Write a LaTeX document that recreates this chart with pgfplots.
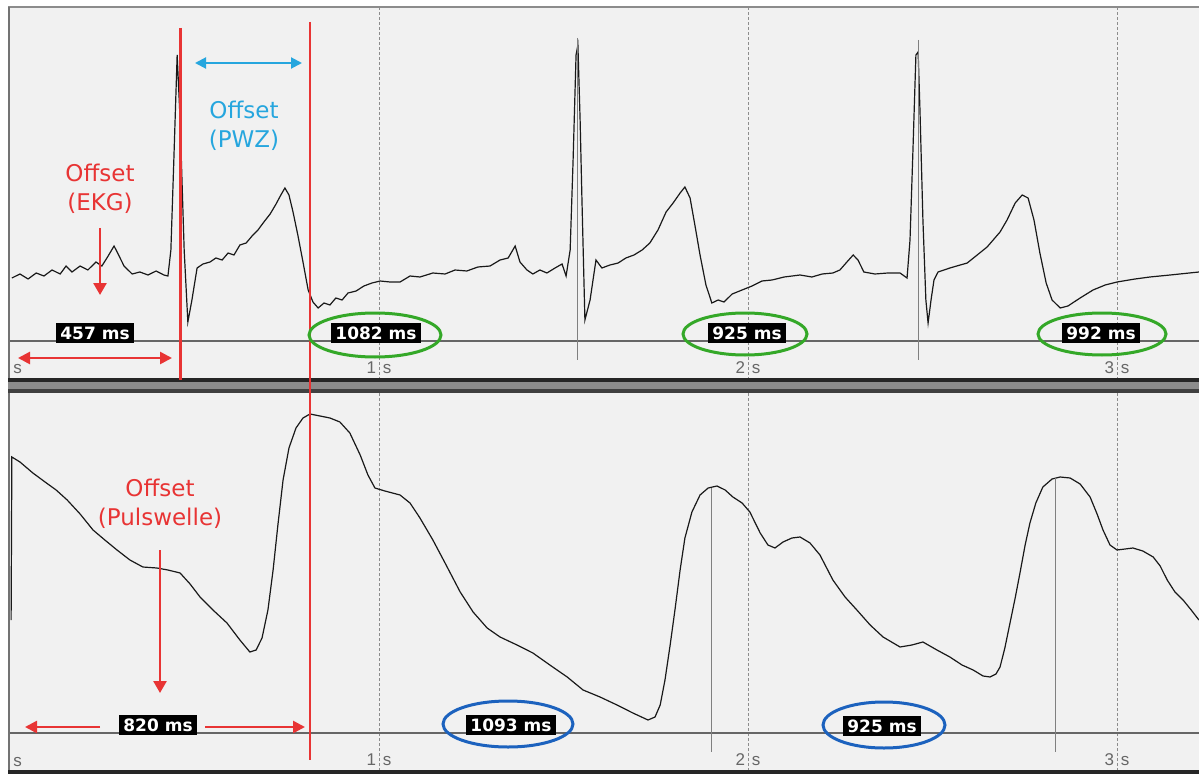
\documentclass[border=0pt]{standalone}
\usepackage{pgfplots}
\pgfplotsset{compat=1.18}
\usepackage{fontspec}
\setmainfont{DejaVu Sans}
\newfontfamily\tickfont{Liberation Sans}
\usetikzlibrary{arrows.meta}
\definecolor{panelbg}{RGB}{241,241,241}
\definecolor{myred}{RGB}{232,52,52}
\definecolor{mycyan}{RGB}{38,166,222}
\definecolor{mygreen}{RGB}{52,168,40}
\definecolor{myblue}{RGB}{28,98,190}
\pgfplotsset{
  panel/.style={
    anchor=south west, scale only axis, width=594.5pt,
    xmin=0, xmax=3.2222,
    axis line style={draw=none}, ytick=\empty,
    xtick={1,2,3},
    xticklabels={1\hspace{3.5pt}s,2\hspace{3.5pt}s,3\hspace{3.5pt}s},
    major tick length=0pt,
    xmajorgrids,
    grid style={dash pattern=on 1.5pt off 1pt, black!45, line width=0.5pt},
    xticklabel style={anchor=base, yshift=3pt, font=\tickfont\fontsize{8.5}{9}\selectfont, text=black!60},
    axis background/.style={fill=panelbg},
    clip=true,
  },
  sig/.style={black!90, line width=0.6pt, mark=none},
}
\begin{document}
\begin{tikzpicture}
% ---------- top panel: EKG ----------
\begin{axis}[panel, at={(5pt,199pt)}, height=186.5pt, ymin=-0.39, ymax=3.34]
\addplot[sig] coordinates {
(0.005,0.63) (0.027,0.67) (0.049,0.62) (0.071,0.68) (0.092,0.65) (0.114,0.71) (0.136,0.67) (0.152,0.75) (0.168,0.69) (0.190,0.75) (0.211,0.71) (0.233,0.79) (0.249,0.75) (0.266,0.85) (0.282,0.95) (0.293,0.87) (0.309,0.75) (0.331,0.67) (0.352,0.69) (0.374,0.66) (0.396,0.70) (0.417,0.66) (0.428,0.65) (0.436,0.91) (0.444,1.81) (0.453,2.86) (0.461,2.21) (0.472,0.91) (0.482,0.19) (0.493,0.41) (0.507,0.73) (0.523,0.77) (0.542,0.79) (0.558,0.83) (0.575,0.81) (0.591,0.88) (0.607,0.86) (0.623,0.96) (0.640,0.98) (0.656,1.05) (0.672,1.11) (0.688,1.19) (0.705,1.27) (0.721,1.37) (0.734,1.46) (0.745,1.53) (0.756,1.46) (0.767,1.29) (0.780,1.06) (0.794,0.79) (0.808,0.51) (0.821,0.39) (0.835,0.33) (0.851,0.38) (0.867,0.36) (0.883,0.43) (0.900,0.41) (0.916,0.48) (0.938,0.50) (0.959,0.55) (0.981,0.58) (1.003,0.60) (1.030,0.59) (1.057,0.59) (1.084,0.65) (1.111,0.64) (1.146,0.68) (1.179,0.67) (1.206,0.71) (1.238,0.70) (1.268,0.74) (1.301,0.75) (1.328,0.81) (1.350,0.83) (1.369,0.95) (1.382,0.79) (1.401,0.71) (1.417,0.67) (1.436,0.71) (1.455,0.68) (1.477,0.73) (1.496,0.77) (1.507,0.65) (1.518,0.91) (1.526,1.81) (1.534,2.86) (1.539,2.96) (1.545,2.21) (1.550,1.41) (1.558,0.21) (1.572,0.41) (1.588,0.81) (1.604,0.73) (1.626,0.76) (1.648,0.78) (1.669,0.83) (1.691,0.86) (1.713,0.91) (1.734,0.98) (1.756,1.11) (1.778,1.29) (1.797,1.38) (1.816,1.48) (1.829,1.54) (1.843,1.43) (1.856,1.16) (1.870,0.86) (1.886,0.56) (1.902,0.38) (1.919,0.41) (1.935,0.39) (1.957,0.47) (1.984,0.51) (2.011,0.55) (2.038,0.60) (2.065,0.61) (2.098,0.64) (2.141,0.66) (2.173,0.64) (2.201,0.67) (2.230,0.68) (2.249,0.71) (2.268,0.79) (2.285,0.86) (2.298,0.81) (2.314,0.69) (2.344,0.67) (2.379,0.68) (2.412,0.68) (2.431,0.63) (2.439,1.01) (2.447,1.91) (2.455,2.86) (2.461,2.89) (2.466,2.31) (2.474,1.21) (2.482,0.41) (2.488,0.18) (2.496,0.41) (2.504,0.61) (2.515,0.69) (2.547,0.73) (2.594,0.78) (2.648,0.94) (2.683,1.09) (2.702,1.21) (2.724,1.38) (2.743,1.46) (2.759,1.43) (2.775,1.21) (2.791,0.88) (2.808,0.58) (2.824,0.41) (2.846,0.33) (2.867,0.35) (2.900,0.43) (2.935,0.51) (2.968,0.56) (3.000,0.59) (3.049,0.62) (3.089,0.64) (3.144,0.66) (3.222,0.69)
};
% baseline and R-peak cursors
\draw[black!60, line width=0.6pt] (axis cs:0,0) -- (axis cs:3.2222,0);
\draw[black!50, line width=0.5pt] (axis cs:1.539,3.03) -- (axis cs:1.539,-0.19);
\draw[black!50, line width=0.5pt] (axis cs:2.461,3.01) -- (axis cs:2.461,-0.19);
\end{axis}
% ---------- bottom panel: Pulswelle ----------
\begin{axis}[panel, at={(5pt,3.5pt)}, height=189pt, ymin=-0.38, ymax=3.40]
\addplot[sig] coordinates {
(0.003,1.13) (0.005,2.76) (0.027,2.71) (0.062,2.60) (0.095,2.51) (0.125,2.43) (0.155,2.33) (0.190,2.19) (0.225,2.03) (0.257,1.93) (0.290,1.83) (0.325,1.73) (0.360,1.66) (0.398,1.65) (0.428,1.63) (0.461,1.60) (0.488,1.49) (0.515,1.36) (0.550,1.23) (0.588,1.10) (0.623,0.93) (0.650,0.81) (0.667,0.83) (0.683,0.95) (0.699,1.23) (0.713,1.63) (0.726,2.08) (0.740,2.53) (0.756,2.85) (0.775,3.05) (0.794,3.15) (0.813,3.19) (0.840,3.17) (0.867,3.15) (0.894,3.11) (0.921,3.00) (0.949,2.78) (0.970,2.58) (0.989,2.45) (1.016,2.42) (1.057,2.38) (1.084,2.30) (1.111,2.15) (1.146,1.93) (1.179,1.70) (1.220,1.41) (1.255,1.21) (1.293,1.05) (1.328,0.96) (1.374,0.88) (1.417,0.80) (1.463,0.68) (1.510,0.56) (1.553,0.43) (1.599,0.36) (1.645,0.28) (1.688,0.20) (1.729,0.13) (1.748,0.16) (1.762,0.28) (1.775,0.53) (1.789,0.88) (1.802,1.23) (1.816,1.63) (1.829,1.95) (1.848,2.21) (1.870,2.38) (1.892,2.45) (1.916,2.47) (1.938,2.43) (1.959,2.36) (1.984,2.30) (2.005,2.21) (2.033,2.00) (2.054,1.88) (2.073,1.85) (2.095,1.91) (2.119,1.95) (2.141,1.96) (2.168,1.90) (2.195,1.78) (2.230,1.53) (2.263,1.36) (2.295,1.23) (2.331,1.08) (2.366,0.96) (2.412,0.86) (2.444,0.88) (2.474,0.91) (2.512,0.83) (2.547,0.76) (2.580,0.68) (2.610,0.63) (2.637,0.57) (2.656,0.56) (2.672,0.59) (2.683,0.66) (2.696,0.85) (2.710,1.10) (2.724,1.35) (2.737,1.60) (2.751,1.88) (2.764,2.10) (2.780,2.30) (2.799,2.46) (2.824,2.54) (2.846,2.56) (2.873,2.55) (2.900,2.49) (2.927,2.36) (2.946,2.19) (2.962,2.03) (2.981,1.88) (3.000,1.83) (3.022,1.84) (3.043,1.85) (3.070,1.82) (3.098,1.76) (3.117,1.67) (3.136,1.53) (3.157,1.41) (3.179,1.33) (3.201,1.23) (3.222,1.13)
};
\draw[black!60, line width=0.6pt] (axis cs:0,0) -- (axis cs:3.2222,0);
\draw[black!50, line width=0.5pt] (axis cs:1.902,2.45) -- (axis cs:1.902,-0.19);
\draw[black!50, line width=0.5pt] (axis cs:2.832,2.55) -- (axis cs:2.832,-0.19);
\end{axis}
% ---------- annotations in pixel units (origin top-left) ----------
\begin{scope}[shift={(0,389pt)}, x=0.5pt, y=-0.5pt]
  % frame
  \draw[black!45, line width=0.6pt] (8,7) -- (1199,7);
  \draw[black!55, line width=0.8pt] (9,7) -- (9,378);
  \draw[black!55, line width=0.8pt] (9,393) -- (9,771);
  \fill[black!85] (8,378) rectangle (1199,382);
  \fill[black!45] (8,382) rectangle (1199,389);
  \fill[black!75] (8,389) rectangle (1199,393);
  \fill[black!85] (8,770) rectangle (1199,774);
  % left "s" labels
  \node[font=\tickfont\fontsize{8.5}{9}\selectfont, text=black!60, anchor=base west, inner sep=0] at (13,373) {s};
  \node[font=\tickfont\fontsize{8.5}{9}\selectfont, text=black!60, anchor=base west, inner sep=0] at (13,766) {s};
  % red offset lines
  \draw[myred, line width=1.5pt] (180,28) -- (180,380);
  \draw[myred, line width=1pt] (310,22) -- (310,760);
  % cyan double arrow and text
  \draw[mycyan, line width=1pt, {Triangle[length=5.5pt,width=5.5pt]}-{Triangle[length=5.5pt,width=5.5pt]}] (195,63) -- (302,63);
  \node[text=mycyan, font=\fontsize{11.5}{13}\selectfont] at (244,110) {Offset};
  \node[text=mycyan, font=\fontsize{11.5}{13}\selectfont] at (244,140) {(PWZ)};
  % red EKG text + arrows
  \node[text=myred, font=\fontsize{11.5}{13}\selectfont] at (100,173) {Offset};
  \node[text=myred, font=\fontsize{11.5}{13}\selectfont] at (100,203) {(EKG)};
  \draw[myred, line width=1.3pt, -{Triangle[length=6pt,width=6.5pt]}] (100,228) -- (100,295);
  \draw[myred, line width=1.3pt, {Triangle[length=6pt,width=6pt]}-{Triangle[length=6pt,width=6pt]}] (18,358) -- (172,358);
  % red Pulswelle text + arrows
  \node[text=myred, font=\fontsize{11.5}{13}\selectfont] at (160,488) {Offset};
  \node[text=myred, font=\fontsize{11.5}{13}\selectfont] at (160,518) {(Pulswelle)};
  \draw[myred, line width=1.3pt, -{Triangle[length=6pt,width=6.5pt]}] (160,550) -- (160,693);
  \draw[myred, line width=1.3pt, -{Triangle[length=6pt,width=6pt]}] (100,727) -- (25,727);
  \draw[myred, line width=1.3pt, -{Triangle[length=6pt,width=6pt]}] (205,727) -- (305,727);
  % ellipses
  \draw[mygreen, line width=1.5pt] (375,335) ellipse [x radius=66, y radius=22];
  \draw[mygreen, line width=1.5pt] (745,334) ellipse [x radius=62, y radius=21];
  \draw[mygreen, line width=1.5pt] (1102,334) ellipse [x radius=64, y radius=21];
  \draw[myblue, line width=1.5pt] (508,724) ellipse [x radius=65, y radius=23];
  \draw[myblue, line width=1.5pt] (884,725) ellipse [x radius=61, y radius=23];
  % ms boxes
  \tikzset{msbox/.style={fill=black, text=white, font=\bfseries\fontsize{8.5}{9}\selectfont, inner xsep=2pt, inner ysep=0pt, minimum height=10pt}}
  \node[msbox] at (95,333) {457 ms};
  \node[msbox] at (376,333) {1082 ms};
  \node[msbox] at (747,333) {925 ms};
  \node[msbox] at (1101,333) {992 ms};
  \node[msbox] at (158,725) {820 ms};
  \node[msbox] at (511,725) {1093 ms};
  \node[msbox] at (882,726) {925 ms};
\end{scope}
\pgfresetboundingbox
\path[use as bounding box] (0,0) rectangle (599.5pt,389pt);
\end{tikzpicture}
\end{document}
